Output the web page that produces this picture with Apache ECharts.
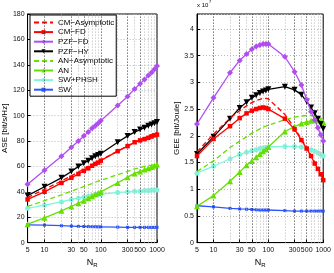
<!DOCTYPE html>
<html><head><meta charset="utf-8">
<script src="https://cdn.jsdelivr.net/npm/echarts@6/dist/echarts.min.js"></script>
<style>html,body{margin:0;padding:0;background:#fff}#c{width:334px;height:273px}</style>
</head><body><div id="c"></div>
<script>
const N = [5,10,20,30,40,50,60,70,80,90,100,200,300,400,500,600,700,800,900,1000];
const xTicks = [5,10,30,50,100,300,500,1000];
const xMinor = [20,40,60,70,80,90,200,400,600,700,800,900];
const names = ['CM−Asymptotic','CM−FD','PZF−FD','PZF−HY','AN−Asymptotic','AN','SW+PHSH','SW'];

// ASE [bit/s/Hz]
const aseCmAsym = [35.5,42,48.5,52.5,55.5,58,60,61.5,63,64,65,72,76,79,81,82.5,84,85,86,87];
const aseCmFD   = [34,40,47,51,54,56.5,58.5,60.5,62,63,64.5,72,76,79,80.5,81.5,82.5,83.5,84.5,85];
const asePzfFD  = [46,57,68,75,80,84,87,90,92,94,96,108,115,121,125,128.5,131.5,134,136.5,139];
const asePzfHY  = [37,44,51,56,60,62.5,64.5,66.5,68,69,70,79,84,87,89,90.5,92,93,94,95];
const aseAnAsym = [28.5,33,37.5,40.5,42.5,44,45.5,46.5,47.5,48.5,49,53.5,56,58,59,60,60.5,61,61.5,62];
const aseAn     = [14.5,19.5,25,28.5,31,33,35,36.5,38,39,40,47,51.5,54.5,56,57.5,58.5,59.5,60.5,61.5];
const aseSwPhsh = [27,29.5,32,34,35,36,36.5,37,37.5,38,38,39.5,40,40.5,40.5,41,41,41.5,41.5,41.5];
const aseSw     = [14,13.8,13.3,13,12.8,12.7,12.6,12.5,12.5,12.4,12.4,12.2,12,12,12,12,12,12,12,12];

// GEE [bit/Joule] x 10^7
const geeCmAsym = [1.7,2.03,2.33,2.47,2.56,2.62,2.66,2.68,2.7,2.7,2.69,2.4,2.15,1.94,1.78,1.64,1.5,1.4,1.3,1.2];
const geeCmFD   = [1.62,1.94,2.18,2.33,2.42,2.47,2.5,2.52,2.53,2.52,2.5,2.32,2.12,1.92,1.76,1.62,1.48,1.38,1.28,1.17];
const geePzfFD  = [2.22,2.71,3.18,3.41,3.53,3.62,3.67,3.7,3.72,3.72,3.72,3.48,3.2,2.95,2.68,2.45,2.3,2.15,2.02,1.9];
const geePzfHY  = [1.66,1.98,2.32,2.52,2.63,2.71,2.76,2.8,2.83,2.85,2.87,2.92,2.86,2.77,2.64,2.53,2.42,2.32,2.22,2.13];
const geeAnAsym = [1.33,1.53,1.78,1.9,1.98,2.05,2.09,2.13,2.16,2.18,2.2,2.3,2.35,2.37,2.38,2.38,2.37,2.35,2.33,2.3];
const geeAn     = [0.68,0.88,1.15,1.32,1.45,1.53,1.6,1.66,1.71,1.75,1.79,2.08,2.17,2.23,2.26,2.28,2.29,2.29,2.28,2.26];
const geeSwPhsh = [1.3,1.43,1.57,1.65,1.69,1.72,1.74,1.76,1.77,1.78,1.79,1.8,1.8,1.79,1.77,1.74,1.71,1.68,1.65,1.62];
const geeSw     = [0.69,0.67,0.64,0.63,0.625,0.62,0.615,0.61,0.61,0.61,0.61,0.6,0.59,0.59,0.59,0.59,0.59,0.59,0.59,0.59];

const FONT = 'Liberation Sans';
const styles = [
  {color:'#ff0000', dash:'dashed', symbol:'none', size:0},
  {color:'#ff0000', dash:'solid', symbol:'rect', size:4.5},
  {color:'#b04ef2', dash:'solid', symbol:'diamond', size:6},
  {color:'#000000', dash:'solid', symbol:'triangle', size:6, rot:180},
  {color:'#66e000', dash:'dashed', symbol:'none', size:0},
  {color:'#66e000', dash:'solid', symbol:'triangle', size:6},
  {color:'#7ff5dc', dash:'solid', symbol:'circle', size:5},
  {color:'#2d55ff', dash:'solid', symbol:'rect', size:3}
];
const aseSets = [aseCmAsym,aseCmFD,asePzfFD,asePzfHY,aseAnAsym,aseAn,aseSwPhsh,aseSw];
const geeSets = [geeCmAsym,geeCmFD,geePzfFD,geePzfHY,geeAnAsym,geeAn,geeSwPhsh,geeSw];

function mkSeries(sets, idx) {
  return sets.map((vals, i) => {
    const s = styles[i];
    return {
      name: names[i], type:'line', xAxisIndex: idx, yAxisIndex: idx,
      data: N.map((n, k) => [n, vals[k]]),
      symbol: s.symbol === 'none' ? 'circle' : s.symbol, symbolSize: s.size, symbolRotate: s.rot || 0,
      showSymbol: s.symbol !== 'none',
      lineStyle: {color: s.color, width: 1.3, type: s.dash === 'dashed' ? [5,3] : 'solid'},
      itemStyle: {color: s.color, borderWidth: 0},
      z: 10 - i, animation: false, silent: true
    };
  });
}
function gridLines(idx) {
  return {
    type:'line', xAxisIndex: idx, yAxisIndex: idx, data: [], silent: true, animation:false,
    markLine: {
      silent: true, symbol: 'none', animation: false, label: {show:false},
      data: xMinor.map(v => ({xAxis: v, lineStyle:{color:'#b8b8b8', type:[1,2], width:1}}))
        .concat([10,30,50,100,300,500].map(v => ({xAxis: v, lineStyle:{color:'#333', type:[1,2], width:1}})))
    }
  };
}
function xAxis(idx) {
  return {
    type:'log', logBase:10, min:5, max:1000, gridIndex: idx,
    name: '{a|N}{b|R}', nameLocation:'middle', nameGap: 13,
    nameTextStyle: {rich:{a:{fontFamily:FONT,fontSize:9,color:'#000'}, b:{fontFamily:FONT,fontSize:6,color:'#000', verticalAlign:'bottom', padding:[4,0,0,0]}}},
    axisLine:{show:true, lineStyle:{color:'#000'}},
    axisTick:{show:true, inside:true, length:3, customValues: xTicks, lineStyle:{color:'#000'}},
    axisLabel:{show:true, customValues: xTicks, fontFamily:FONT, fontSize:7, color:'#111', margin:4, formatter: v => String(Math.round(v))},
    splitLine:{show:false}, minorTick:{show:false}
  };
}
const yLeft = {
  type:'value', min:0, max:180, interval:20, gridIndex:0,
  name:'ASE [bit/s/Hz]', nameLocation:'middle', nameGap:15,
  nameTextStyle:{fontFamily:FONT, fontSize:8, color:'#000'},
  axisLine:{show:true, lineStyle:{color:'#000'}},
  axisTick:{show:true, inside:true, length:3, lineStyle:{color:'#000'}},
  axisLabel:{fontFamily:FONT, fontSize:7, color:'#111', margin:3},
  splitLine:{show:true, lineStyle:{color:'#b8b8b8', type:[1,2]}}
};
const yRight = {
  type:'value', min:0, max:4.28, interval:0.5, gridIndex:1,
  name:'GEE [bit/Joule]', nameLocation:'middle', nameGap:15,
  nameTextStyle:{fontFamily:FONT, fontSize:8, color:'#000'},
  axisLine:{show:true, lineStyle:{color:'#000'}},
  axisTick:{show:true, inside:true, length:3, lineStyle:{color:'#000'}},
  axisLabel:{fontFamily:FONT, fontSize:7, color:'#111', margin:3, showMaxLabel:false, formatter: v => String(v)},
  splitLine:{show:true, lineStyle:{color:'#b8b8b8', type:[1,2]}}
};

const legendData = names.map((n, i) => styles[i].symbol === 'none'
  ? {name: n, itemStyle: {opacity: 0}} : {name: n});

const chart = echarts.init(document.getElementById('c'), null, {renderer:'canvas'});
chart.setOption({
  animation:false,
  backgroundColor:'#fff',
  grid:[
    {left:27, top:14, width:130, height:234, show:true, borderColor:'#000', borderWidth:1, backgroundColor:'transparent'},
    {left:197, top:14, width:128, height:234, show:true, borderColor:'#000', borderWidth:1, backgroundColor:'transparent'}
  ],
  xAxis:[xAxis(0), xAxis(1)],
  yAxis:[yLeft, yRight],
  legend:{
    data: legendData, orient:'vertical', left:30, top:15, padding:[3,2,2,3],
    itemWidth:19, itemHeight:5, itemGap:0.6,
    backgroundColor:'#fff', borderColor:'#000', borderWidth:1,
    textStyle:{fontFamily:FONT, fontSize:8, color:'#000', lineHeight:9, padding:[0,0,0,0]},
    selectedMode:false
  },
  graphic:[
    {type:'text', left:197, top:2, style:{text:'x 10', font:'6px "Liberation Sans"', fill:'#000'}},
    {type:'text', left:209, top:0, style:{text:'7', font:'4px "Liberation Sans"', fill:'#000'}}
  ],
  series: [gridLines(0), gridLines(1)].concat(mkSeries(aseSets,0)).concat(mkSeries(geeSets,1))
});
</script></body></html>
